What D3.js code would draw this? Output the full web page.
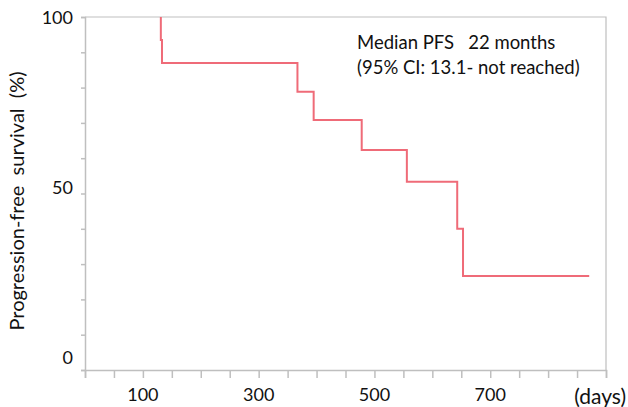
<!DOCTYPE html>
<html>
<head>
<meta charset="utf-8">
<script src="https://cdn.jsdelivr.net/npm/d3@7"></script>
<style>
  body { margin: 0; background: #fff; }
  svg { display: block; font-family: Lato, "Noto Sans", sans-serif; }
</style>
</head>
<body>
<div id="chart"></div>
<script>
// Kaplan-Meier steps: day of event, survival after it (%)
const startDay = 131
const eventDays = [131, 133, 367, 395, 478, 556, 643, 653]
const survival = [93.5, 87, 78.8, 70.8, 62.3, 53.3, 40, 26.6]
const lastFollowUp = 871

const xTicks = [0, 50, 100, 150, 200, 250, 300, 350, 400, 450, 500, 550, 600, 650, 700, 750, 800, 850, 900]
const xLabels = [100, 300, 500, 700]
const yTicks = [0, 10, 20, 30, 40, 50, 60, 70, 80, 90, 100]
const yLabels = [0, 50, 100]
const noteLines = ["Median PFS   22 months", "(95% CI: 13.1- not reached)"]

const width = 628
const height = 407
const margin = {top: 17, right: 22, bottom: 37, left: 85}
const axisColor = "#bfbfbf"
const lineColor = "#ef6b78"
const textColor = "#111"

const svg = d3.select("#chart").append("svg")
  .attr("width", width)
  .attr("height", height)

const x = d3.scaleLinear().domain([0, 900]).range([margin.left, width - margin.right])
const y = d3.scaleLinear().domain([0, 100]).range([height - margin.bottom, margin.top])
// the value labels sit a little off their ticks in the original
const yLabelPos = d3.scaleLinear().domain([0, 100]).range([358, 18])

// frame: top and right border
svg.append("path")
  .attr("d", `M${x(0)},${y(100)}H${x(900)}V${y(0)}`)
  .attr("fill", "none")
  .attr("stroke", axisColor)
  .attr("stroke-width", 1.2)

const xAxis = svg.append("g")
  .attr("transform", `translate(0,${y(0)})`)
  .call(d3.axisBottom(x).tickValues(xTicks).tickSize(8).tickFormat(""))
xAxis.select(".domain").attr("stroke", axisColor).attr("stroke-width", 1.5)
xAxis.selectAll(".tick line").attr("stroke", axisColor).attr("stroke-width", 1.5)

const yAxis = svg.append("g")
  .attr("transform", `translate(${x(0)},0)`)
  .call(d3.axisLeft(y).tickValues(yTicks).tickSize(4).tickFormat(""))
yAxis.select(".domain").attr("stroke", axisColor).attr("stroke-width", 1.5)
yAxis.selectAll(".tick line").attr("stroke", axisColor).attr("stroke-width", 1.5)

svg.append("g").selectAll("text")
  .data(xLabels)
  .join("text")
  .attr("x", d => x(d))
  .attr("y", 401)
  .attr("text-anchor", "middle")
  .attr("font-size", 18)
  .attr("fill", textColor)
  .text(d => d)

svg.append("text")
  .attr("x", 626)
  .attr("y", 404)
  .attr("text-anchor", "end")
  .attr("font-size", 21)
  .attr("fill", textColor)
  .text("(days)")

svg.append("g").selectAll("text")
  .data(yLabels)
  .join("text")
  .attr("x", 73)
  .attr("y", d => yLabelPos(d))
  .attr("dy", "0.35em")
  .attr("text-anchor", "end")
  .attr("font-size", 18)
  .attr("fill", textColor)
  .text(d => d)

svg.append("text")
  .attr("transform", "translate(24,201) rotate(-90)")
  .attr("text-anchor", "middle")
  .attr("font-size", 20)
  .attr("fill", textColor)
  .style("white-space", "pre")
  .text("Progression-free  survival  (%)")

svg.append("g").selectAll("text")
  .data(noteLines)
  .join("text")
  .attr("x", 357)
  .attr("y", (d, i) => 49 + i * 25)
  .attr("font-size", 18.5)
  .attr("fill", textColor)
  .style("white-space", "pre")
  .text(d => d)

// survival curve
const points = [[startDay, 100]]
  .concat(eventDays.map((d, i) => [d, survival[i]]))
  .concat([[lastFollowUp, survival[survival.length - 1]]])

const line = d3.line()
  .x(d => x(d[0]))
  .y(d => y(d[1]))
  .curve(d3.curveStepAfter)

svg.append("path")
  .datum(points)
  .attr("d", line)
  .attr("fill", "none")
  .attr("stroke", lineColor)
  .attr("stroke-width", 2)
</script>
</body>
</html>
